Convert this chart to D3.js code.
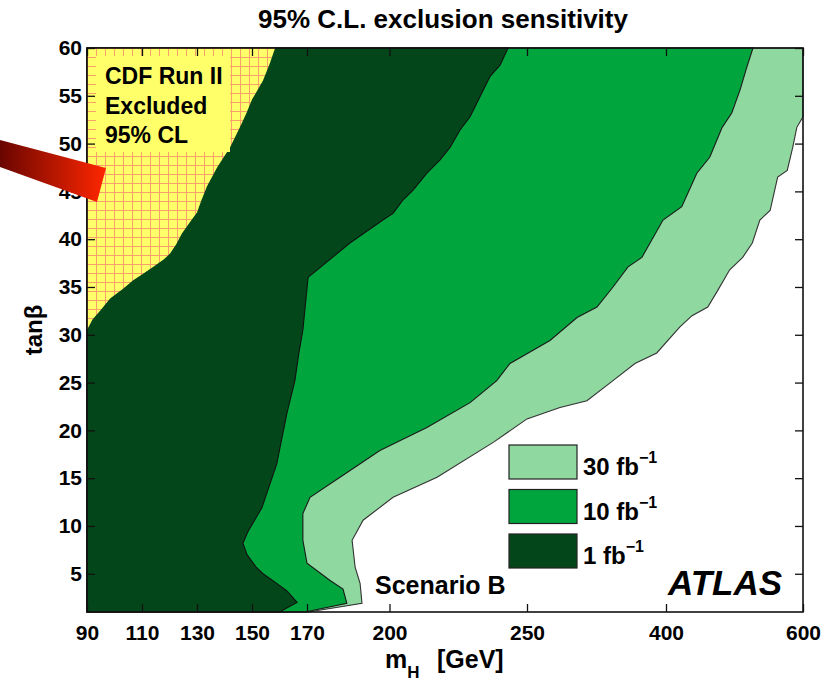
<!DOCTYPE html>
<html>
<head>
<meta charset="utf-8">
<script src="https://cdn.jsdelivr.net/npm/d3@7"></script>
<style>
  body { margin: 0; background: #fff; }
  svg { display: block; font-family: "Liberation Sans", Arial, Helvetica, sans-serif; }
</style>
</head>
<body>
<div id="chart"></div>
<script>
// tick values
const xTicks = [90, 110, 130, 150, 170, 200, 250, 400, 600];
const yTicks = [5, 10, 15, 20, 25, 30, 35, 40, 45, 50, 55, 60];

// CDF excluded region edge (mH, tanb), bottom-left to top
const cdfEdge = [[90,30.5],[92,31.6],[95,32.6],[98.4,33.8],[103,34.8],[106.8,35.7],[110,36.3],[114,37.1],
  [118,37.9],[120.2,38.5],[122.5,39.5],[124.5,40.6],[128,42],[130,42.8],[131.5,44],[133.6,45.5],[137.3,47.5],
  [142,49.6],[145.6,51.7],[148,53.2],[150,54.6],[154,56.6],[156.5,58.4],[158.4,60]];

// 1 fb-1 contour, top to bottom
const edge1fb = [[243.1,60],[240.2,58.2],[236.5,57],[232.9,54.9],[229.3,52.8],[225.6,51.4],[222,49.6],
  [218.4,48.3],[213.6,46.9],[208.5,45.1],[204.9,44.1],[201.3,42.7],[197.6,42],[185.6,39.6],[170.4,36],
  [168.5,30.5],[167,28],[165.6,25.2],[162.7,21.8],[159,16.5],[153.6,11.9],[148.5,9.4],[146.7,8.2],
  [148.2,7],[151.5,5.7],[154,5],[159,4],[162.7,3.2],[166.4,2],[161.3,1.2],[160.2,1]];

// 10 fb-1 contour, top to bottom
const edge10fb = [[527,60],[518,58],[508,55.6],[496,53.2],[482,51.7],[464,48.6],[445,46.9],[423,43.4],
  [396.8,42],[374,38.1],[359,37.1],[342.8,35],[325.5,32.9],[304,31.8],[274.8,29.4],[243.8,27],[239,25.2],
  [229.3,22.9],[213.6,20.3],[196.5,17.9],[182,15.1],[171.1,13],[168.5,11.3],[168.5,8.5],[170,6.1],
  [178.4,4.3],[183.1,3.4],[184.5,1.9],[169.3,1]];

// 30 fb-1 contour, right edge to bottom
const edge30fb = [[600,52.8],[591,51.7],[585,49.6],[577,47.2],[563,46.5],[552,43],[537,42],[526,39.6],
  [512,38.1],[493,36.8],[476,34.7],[461,32.9],[438,32],[420,30.8],[390,28.1],[366.5,27],[342.8,25.2],
  [314.7,23.1],[285.6,22.4],[250,21.2],[238,18.8],[217.3,15.1],[201.3,13],[190.4,10.6],[186.4,8.5],
  [187.5,5.7],[189.3,4],[190,1.9],[170.5,1]];

const legendLabels = ["30 fb", "10 fb", "1 fb"];
const legendColors = ["#8fd8a0", "#00a53d", "#03461a"];

const width = 836, height = 682;

const svg = d3.select("#chart").append("svg")
  .attr("width", width)
  .attr("height", height);

const defs = svg.append("defs");

// hatch for CDF region
const pat = defs.append("pattern")
  .attr("id", "cdfHatch")
  .attr("patternUnits", "userSpaceOnUse")
  .attr("x", 87).attr("y", 48)
  .attr("width", 9).attr("height", 9);
pat.append("rect").attr("width", 9).attr("height", 9).attr("fill", "#ffff6a");
pat.append("path").attr("d", "M0,0.5H9M0.5,0V9").attr("stroke", "#f7a06c").attr("stroke-width", 1);

const grad = defs.append("linearGradient")
  .attr("id", "redBar")
  .attr("gradientUnits", "userSpaceOnUse")
  .attr("x1", 0).attr("y1", 0).attr("x2", 106).attr("y2", 0);
grad.append("stop").attr("offset", 0).attr("stop-color", "#6a0600");
grad.append("stop").attr("offset", 1).attr("stop-color", "#ff2600");

// Scales (x axis is linear up to 250 GeV, then compressed)
const x = d3.scaleLinear()
  .domain([90, 250, 400, 600])
  .range([87, 527, 666, 803]);

const y = d3.scaleLinear()
  .domain([1, 60])
  .range([612, 48]);

const line = d3.line().x(d => x(d[0])).y(d => y(d[1]));

const plot = svg.append("g");

// contours, widest first
plot.append("path")
  .attr("d", line([[90,1],[90,60],[600,60], ...edge30fb]) + "Z")
  .attr("fill", legendColors[0])
  .attr("stroke", "#333").attr("stroke-width", 1.1);

plot.append("path")
  .attr("d", line([[90,1],[90,60], ...edge10fb]) + "Z")
  .attr("fill", legendColors[1])
  .attr("stroke", "#1a1a1a").attr("stroke-width", 1.1);

plot.append("path")
  .attr("d", line([[90,1],[90,60], ...edge1fb]) + "Z")
  .attr("fill", legendColors[2])
  .attr("stroke", "#111").attr("stroke-width", 1.1);

// CDF excluded
plot.append("path")
  .attr("d", line([[90,60], ...cdfEdge]) + "Z")
  .attr("fill", "url(#cdfHatch)");

plot.append("rect")
  .attr("x", 96).attr("y", 56)
  .attr("width", 134).attr("height", 96)
  .attr("fill", "#ffff6a");

const cdfText = plot.append("text")
  .attr("x", 105).attr("y", 84)
  .style("font-size", "23px").style("font-weight", "bold");
["CDF Run II", "Excluded", "95% CL"].forEach((t, i) => {
  cdfText.append("tspan").attr("x", 105).attr("dy", i === 0 ? 0 : 29.5).text(t);
});

// Axes (ticks point inward on all sides)
svg.append("g")
  .attr("transform", `translate(0,${y(1)})`)
  .call(d3.axisBottom(x).tickValues(xTicks).tickSize(-8).tickSizeOuter(0).tickPadding(13));
svg.append("g")
  .attr("transform", `translate(${x(90)},0)`)
  .call(d3.axisLeft(y).tickValues(yTicks).tickSize(-8).tickSizeOuter(0).tickPadding(5));
svg.append("g")
  .attr("transform", `translate(0,${y(60)})`)
  .call(d3.axisTop(x).tickValues(xTicks).tickSize(-8).tickSizeOuter(0).tickFormat(""));
svg.append("g")
  .attr("transform", `translate(${x(600)},0)`)
  .call(d3.axisRight(y).tickValues(yTicks).tickSize(-8).tickSizeOuter(0).tickFormat(""));

svg.selectAll(".domain").remove();
svg.selectAll(".tick line").attr("stroke", "#111").attr("stroke-width", 1.3);
svg.selectAll(".tick text")
  .attr("fill", "#000")
  .style("font-size", "21px")
  .style("font-weight", "bold")
  .style("font-family", "'Liberation Sans', Arial, sans-serif");

svg.append("rect")
  .attr("x", x(90)).attr("y", y(60))
  .attr("width", x(600) - x(90)).attr("height", y(1) - y(60))
  .attr("fill", "none").attr("stroke", "#111").attr("stroke-width", 1.6);

// Title and axis labels
svg.append("text")
  .attr("x", 443).attr("y", 28)
  .attr("text-anchor", "middle")
  .style("font-size", "26px").style("font-weight", "bold")
  .text("95% C.L. exclusion sensitivity");

svg.append("text")
  .attr("transform", "translate(42,330) rotate(-90)")
  .attr("text-anchor", "middle")
  .style("font-size", "24px").style("font-weight", "bold")
  .text("tanβ");

const xl = svg.append("text")
  .attr("x", 385).attr("y", 668)
  .style("font-size", "25px").style("font-weight", "bold");
xl.append("tspan").text("m");
xl.append("tspan").attr("dy", 10).style("font-size", "17px").text("H");
xl.append("tspan").attr("x", 437).attr("dy", -10).text("[GeV]");

// Legend
const legend = svg.append("g");
legendLabels.forEach((lab, i) => {
  const ly = 445 + i * 44.5;
  legend.append("rect")
    .attr("x", 509).attr("y", ly)
    .attr("width", 68).attr("height", 34)
    .attr("fill", legendColors[i])
    .attr("stroke", "#222").attr("stroke-width", 1.2);
  const t = legend.append("text")
    .attr("x", 583).attr("y", ly + 30)
    .style("font-size", "24px").style("font-weight", "bold");
  t.append("tspan").text(lab);
  t.append("tspan").attr("dy", -12).style("font-size", "16px").text("−1");
});

svg.append("text")
  .attr("x", 375).attr("y", 594)
  .style("font-size", "25px").style("font-weight", "bold")
  .text("Scenario B");

svg.append("text")
  .attr("x", 668).attr("y", 595)
  .style("font-size", "35px").style("font-weight", "bold").style("font-style", "italic")
  .text("ATLAS");

// red pointer over the left side
svg.append("path")
  .attr("d", "M0,140L106,168L97,202L0,167Z")
  .attr("fill", "url(#redBar)");
</script>
</body>
</html>
